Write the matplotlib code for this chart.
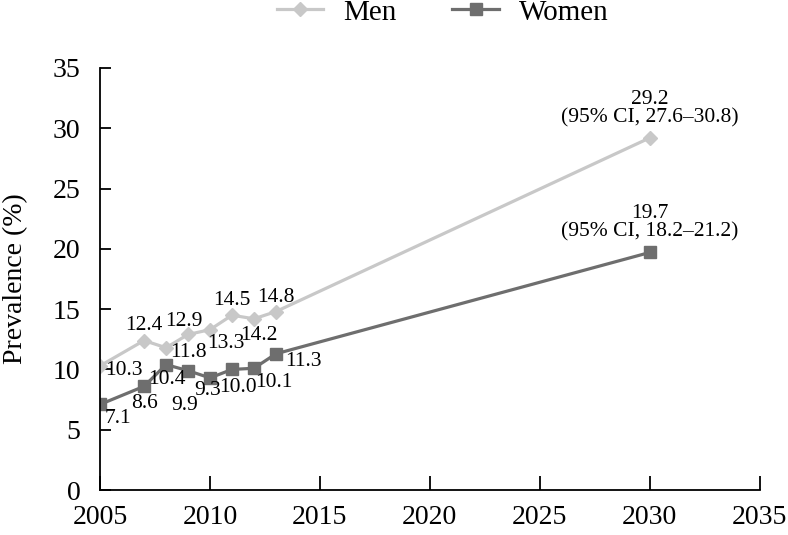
import matplotlib
matplotlib.use("Agg")
import matplotlib.pyplot as plt

# data
years = [2005, 2007, 2008, 2009, 2010, 2011, 2012, 2013, 2030]
men = [10.3, 12.4, 11.8, 12.9, 13.3, 14.5, 14.2, 14.8, 29.2]
women = [7.1, 8.6, 10.4, 9.9, 9.3, 10.0, 10.1, 11.3, 19.7]
men_ci = "(95% CI, 27.6\u201330.8)"
women_ci = "(95% CI, 18.2\u201321.2)"

# label offsets in pixels (dx, dy) for each point
men_offsets = [(24, -5), (0, 15), (22, -5), (-4, 13), (16, -14), (0, 15), (5, -17), (0, 14), (0, 29)]
women_offsets = [(18, -14), (0, -17), (1, -15), (-3, -35), (-2, -13), (6, -18), (20, -14), (27, -8), (0, 30)]

plt.rcParams['font.family'] = ['Liberation Serif', 'DejaVu Serif']

men_color = '#c8c8c8'
women_color = '#6e6e6e'

fig = plt.figure(figsize=(7.88, 5.35), dpi=100)
ax = fig.add_axes([0.127, 0.084, 0.837, 0.789])

ax.plot(years, men, color=men_color, lw=2.3, marker='D', markersize=7,
        markeredgecolor=men_color, label='Men')
ax.plot(years, women, color=women_color, lw=2.3, marker='s', markersize=8,
        markeredgecolor=women_color, label='Women')

for i, (x, y) in enumerate(zip(years, men)):
    txt = f"{y:.1f}"
    if i == len(years) - 1:
        txt = txt + "\n" + men_ci
    ax.annotate(txt, (x, y), xytext=men_offsets[i], textcoords='offset pixels',
                ha='center', va='center', fontsize=15.5, linespacing=0.95)

for i, (x, y) in enumerate(zip(years, women)):
    txt = f"{y:.1f}"
    if i == len(years) - 1:
        txt = txt + "\n" + women_ci
    ax.annotate(txt, (x, y), xytext=women_offsets[i], textcoords='offset pixels',
                ha='center', va='center', fontsize=15.5, linespacing=0.95)

ax.set_xlim(2005, 2035)
ax.set_ylim(0, 35)
ax.set_xticks(range(2005, 2036, 5))
ax.set_yticks(range(0, 36, 5))
ax.spines['top'].set_visible(False)
ax.spines['right'].set_visible(False)
ax.spines['left'].set_linewidth(1.3)
ax.spines['bottom'].set_linewidth(1.3)
ax.tick_params(axis='x', direction='in', length=10, width=1.3, labelsize=20, pad=11)
ax.tick_params(axis='y', direction='in', length=8, width=1.3, labelsize=20, pad=14)
ax.set_ylabel('Prevalence (%)', fontsize=20, labelpad=18)

fig.legend(loc='center', bbox_to_anchor=(0.562, 0.977), ncol=2, frameon=False,
           fontsize=21, handlelength=1.6, handletextpad=0.7, columnspacing=1.9)

fig.savefig('out.png', dpi=100)
